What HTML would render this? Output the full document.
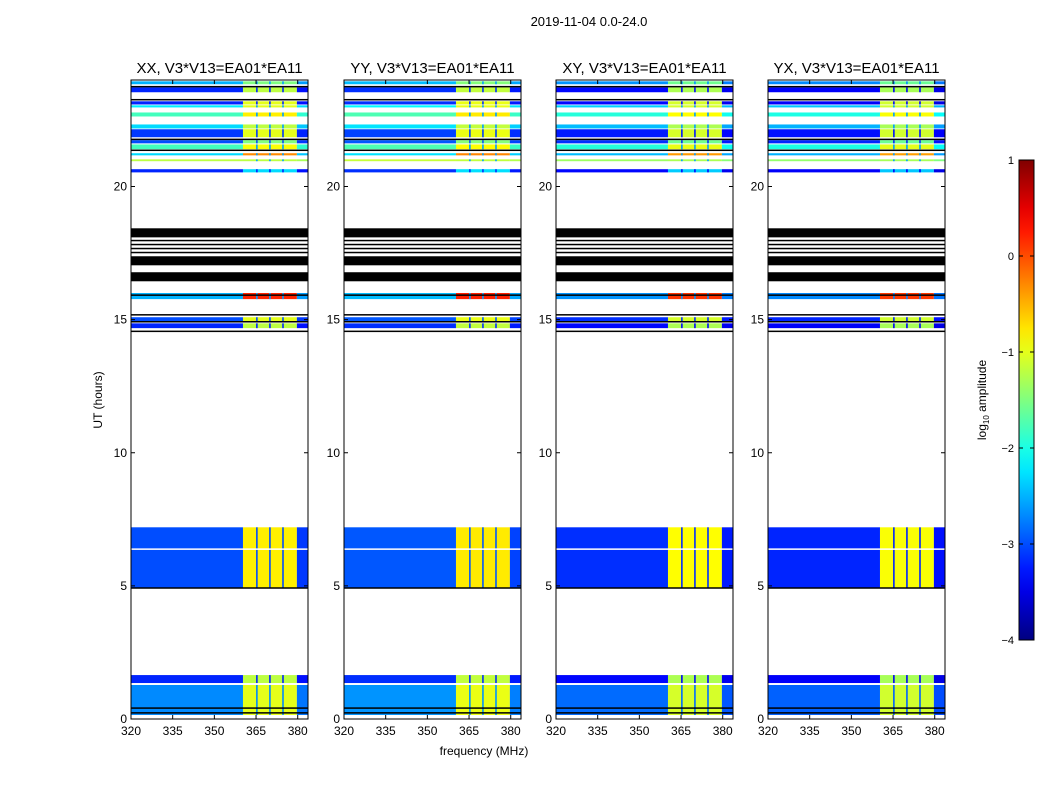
<!DOCTYPE html>
<html><head><meta charset="utf-8">
<style>
html,body{margin:0;padding:0;background:#fff;}
svg{display:block;font-family:"Liberation Sans","DejaVu Sans",sans-serif;}
</style></head>
<body>
<svg id="chart" width="1050" height="800" viewBox="0 0 1050 800" xmlns="http://www.w3.org/2000/svg">
<rect width="1050" height="800" fill="#fff"/>
<text x="589" y="26" font-size="13" text-anchor="middle">2019-11-04 0.0-24.0</text>
<text x="484" y="755" font-size="12" text-anchor="middle">frequency (MHz)</text>
<text transform="translate(102,400) rotate(-90)" font-size="12" text-anchor="middle">UT (hours)</text>
<g id="panels"></g>
<g id="cbar"></g>
</svg>
<script>
// ---- data ----
const panelTitles = ["XX, V3*V13=EA01*EA11","YY, V3*V13=EA01*EA11","XY, V3*V13=EA01*EA11","YX, V3*V13=EA01*EA11"];
const xTicks = [320,335,350,365,380];
const yTicks = [0,5,10,15,20];
const bandStart = [23.84,23.54,23.08,22.97,22.63,22.18,21.85,21.62,21.40,21.17,20.95,20.53,15.77,14.90,14.68,4.92,1.35,0.15];
const bandEnd   = [23.95,23.72,23.20,23.05,22.78,22.33,22.15,21.74,21.58,21.25,21.02,20.65,16.00,15.09,14.86,7.20,1.65,1.28];
const lowLevel  = [-2.5,-3.2,-3.2,-2.2,-1.8,-2.3,-3.1,-3.0,-1.8,-2.3,-1.2,-3.2,-2.5,-3.0,-3.2,-3.0,-3.2,-2.7];
const highLevel = [-1.5,-1.2,-1.0,-1.0,-0.8,-1.2,-1.0,-1.5,-0.9,-0.3,-1.2,-2.3, 0.2,-1.0,-1.2,-0.8,-1.2,-1.0];
const panelOffset = [0, 0.05, -0.15, -0.2];
const blackStart = [18.09,17.04,16.44];
const blackEnd   = [18.43,17.38,16.78];
const blackLines = [23.75,23.26,21.77,21.36,17.97,17.82,17.67,17.52,15.92,15.18,14.92,14.56,4.92,0.41,0.23];
const whiteLines = [6.38,1.31];
const highStart = 360.3, highEnd = 379.7;
const stripeFreqs = [365.3,370.0,374.7];
const cbTicks = [1,0,-1,-2,-3,-4];

// ---- geometry ----
const panelX = [131,344,556,768], pw = 177, plotTop = 80, plotBot = 719;
const fmin = 320, fmax = 383.7, tmin = 0, tmax = 24;
const NS = "http://www.w3.org/2000/svg";
function jet(v){
  let t = (v+4)/5; t = Math.max(0,Math.min(1,t));
  const c = x => Math.max(0,Math.min(1,x));
  const r = c(1.5-Math.abs(4*t-3)), g = c(1.5-Math.abs(4*t-2)), b = c(1.5-Math.abs(4*t-1));
  return `rgb(${Math.round(r*255)},${Math.round(g*255)},${Math.round(b*255)})`;
}
function mk(tag, attrs, parent){ const e=document.createElementNS(NS,tag); for(const k in attrs) e.setAttribute(k,attrs[k]); parent.appendChild(e); return e; }
const yS = h => plotBot - (h - tmin)/(tmax - tmin)*(plotBot-plotTop);
const panelsG = document.getElementById('panels');

panelX.forEach((x0,p)=>{
  const xS = f => x0 + (f - fmin)/(fmax - fmin)*pw;
  const g = mk('g',{},panelsG);
  
  
  const off = panelOffset[p];
  bandStart.forEach((s,i)=>{
    const y1 = yS(bandEnd[i]), y2 = yS(s), h = Math.max(1,y2-y1);
    const lo = lowLevel[i]+off, hi = highLevel[i]+off*0.5;
    let r = mk('rect',{x:xS(fmin),y:y1,width:xS(highStart)-xS(fmin),height:h,fill:jet(lo)},g);
    
    
    r = mk('rect',{x:xS(highStart),y:y1,width:xS(highEnd)-xS(highStart),height:h,fill:jet(hi)},g);
    
    
    r = mk('rect',{x:xS(highEnd),y:y1,width:xS(fmax)-xS(highEnd),height:h,fill:jet(lo-0.1)},g);
    
    
    stripeFreqs.forEach(f=>{
      const s2 = mk('rect',{x:xS(f)-0.8,y:y1,width:1.6,height:h,fill:jet(Math.min(lo,-2.6))},g);
      
      
    });
  });
  blackStart.forEach((s,i)=>{
    const r = mk('rect',{x:x0,y:yS(blackEnd[i]),width:pw,height:yS(s)-yS(blackEnd[i]),fill:'#000'},g);
    
    
  });
  blackLines.forEach(h=>{
    const l = mk('rect',{x:x0,y:yS(h)-0.75,width:pw,height:1.5,fill:'#000'},g);
    
    
  });
  whiteLines.forEach(h=>{
    const l = mk('rect',{x:x0,y:yS(h)-0.75,width:pw,height:1.5,fill:'#fff'},g);
    
    
  });
  const fr = mk('rect',{x:x0,y:plotTop,width:pw,height:plotBot-plotTop,fill:'none',stroke:'#000','stroke-width':1},g);
  
  
  const t = mk('text',{x:x0+pw/2,y:plotTop-7,'font-size':15,'text-anchor':'middle'},g);
  t.textContent = panelTitles[p];
  
  
  xTicks.forEach(v=>{
    const xx = xS(v);
    mk('line',{x1:xx,x2:xx,y1:plotBot,y2:plotBot-4,stroke:'#000'},g);
    mk('line',{x1:xx,x2:xx,y1:plotTop,y2:plotTop+4,stroke:'#000'},g);
    const tl = mk('text',{x:xx,y:plotBot+16,'font-size':12,'text-anchor':'middle'},g);
    tl.textContent = v;
    
    
  });
  yTicks.forEach(v=>{
    const yy = yS(v);
    mk('line',{x1:x0,x2:x0+4,y1:yy,y2:yy,stroke:'#000'},g);
    mk('line',{x1:x0+pw,x2:x0+pw-4,y1:yy,y2:yy,stroke:'#000'},g);
    const tl = mk('text',{x:x0-4,y:yy+4,'font-size':12,'text-anchor':'end'},g);
    tl.textContent = v;
    
    
  });
});

// colorbar
const cbG = document.getElementById('cbar');
const cbX = 1019, cbW = 15, cbTop = 160, cbBot = 640;
const defs = mk('defs',{},cbG);
const grad = mk('linearGradient',{id:'jetg',x1:0,y1:1,x2:0,y2:0},defs);
for(let i=0;i<=20;i++){ mk('stop',{offset:i/20,'stop-color':jet(-4+5*i/20)},grad); }
const cr = mk('rect',{x:cbX,y:cbTop,width:cbW,height:cbBot-cbTop,fill:'url(#jetg)',stroke:'#000'},cbG);


const cyS = v => cbBot - (v+4)/5*(cbBot-cbTop);
cbTicks.forEach(v=>{
  const yy = cyS(v);
  mk('line',{x1:cbX,x2:cbX+4,y1:yy,y2:yy,stroke:'#000'},cbG);
  mk('line',{x1:cbX+cbW,x2:cbX+cbW-4,y1:yy,y2:yy,stroke:'#000'},cbG);
  const tl = mk('text',{x:cbX-5,y:yy+4,'font-size':11,'text-anchor':'end'},cbG);
  tl.textContent = v<0 ? '\u2212'+Math.abs(v) : String(v);
  
  
});
const cl = mk('text',{transform:'translate(986,400) rotate(-90)','font-size':12,'text-anchor':'middle'},cbG);


const ts1 = mk('tspan',{},cl); ts1.textContent = 'log';
const ts2 = mk('tspan',{'font-size':8,dy:3},cl); ts2.textContent = '10';
const ts3 = mk('tspan',{dy:-3},cl); ts3.textContent = ' amplitude';
</script>
</body></html>
